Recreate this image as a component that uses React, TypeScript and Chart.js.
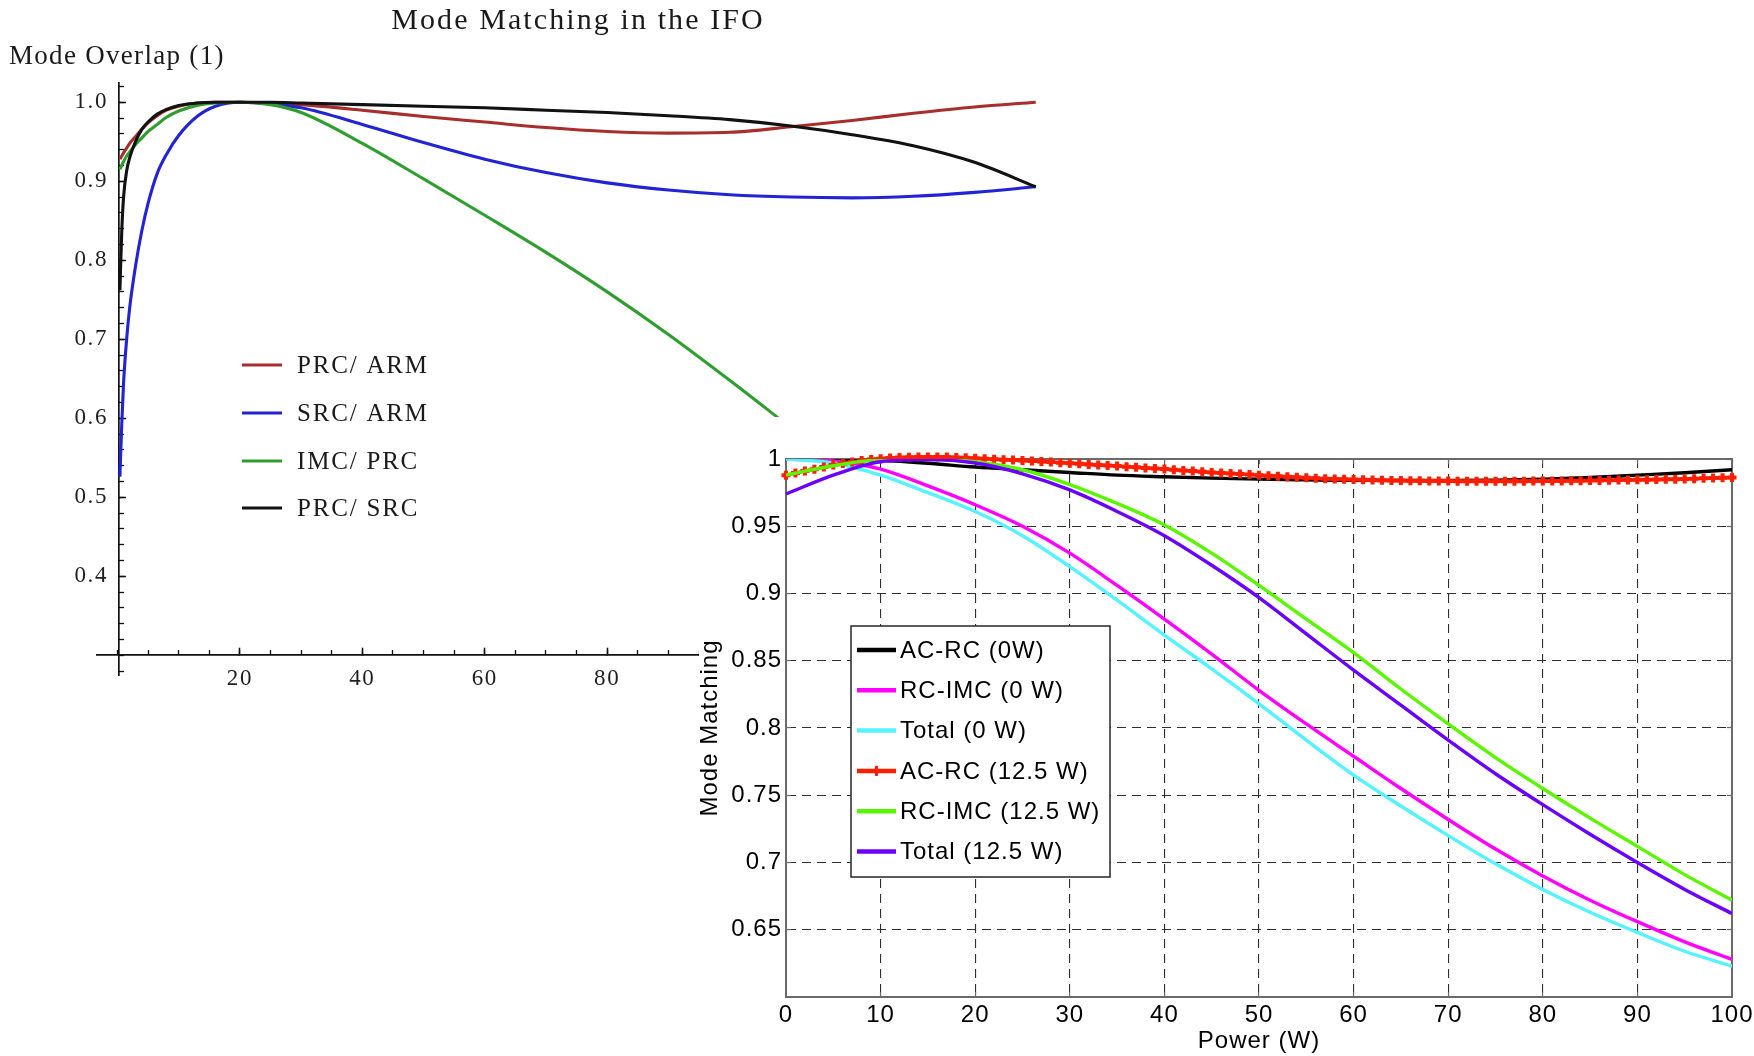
import React, { useEffect, useRef } from 'react';
import { Chart, registerables } from 'chart.js';

Chart.register(...registerables);

// ---------------- Left chart: "Mode Matching in the IFO" ----------------
const leftTitle = 'Mode Matching in the IFO';
const leftYAxisLabel = 'Mode Overlap (1)';
const leftSeriesLabels = ['PRC/ ARM', 'SRC/ ARM', 'IMC/ PRC', 'PRC/ SRC'];
const leftX = [0.4, 0.7, 1, 1.5, 2, 3, 4, 5, 6.5, 8, 10, 13, 16, 20, 25, 30, 40, 50, 60, 70, 80, 90, 100, 110, 120, 130, 140, 150];
const prcArm = [0.928, 0.932, 0.936, 0.942, 0.948, 0.957, 0.966, 0.974, 0.983, 0.99, 0.995, 0.999, 1.0, 1.0, 0.999, 0.997, 0.99, 0.982, 0.975, 0.968, 0.963, 0.961, 0.962, 0.969, 0.977, 0.986, 0.994, 1.0];
const srcArm = [0.526, 0.592, 0.645, 0.7, 0.74, 0.795, 0.838, 0.872, 0.91, 0.934, 0.958, 0.982, 0.995, 1.0, 0.998, 0.993, 0.972, 0.949, 0.928, 0.911, 0.898, 0.889, 0.883, 0.88, 0.879, 0.881, 0.886, 0.893];
const imcPrc = [0.915, 0.92, 0.925, 0.932, 0.937, 0.947, 0.955, 0.963, 0.972, 0.981, 0.989, 0.996, 0.999, 1.0, 0.997, 0.987, 0.948, 0.903, 0.857, 0.81, 0.76, 0.706, 0.648, 0.588];
const prcSrc = [0.762, 0.836, 0.88, 0.913, 0.93, 0.951, 0.966, 0.975, 0.985, 0.991, 0.996, 0.999, 1.0, 1.0, 1.0, 0.999, 0.997, 0.995, 0.993, 0.99, 0.987, 0.983, 0.978, 0.97, 0.959, 0.945, 0.924, 0.893];
const leftXTicks = [20, 40, 60, 80, 100, 120, 140];
const leftXTickLabels = ['20', '40', '60', '80', '100', '120', '140'];
const leftYTicks = [0.4, 0.5, 0.6, 0.7, 0.8, 0.9, 1.0];
const leftYTickLabels = ['0.4', '0.5', '0.6', '0.7', '0.8', '0.9', '1.0'];

// ---------------- Right chart: Mode Matching vs Power ----------------
const rightXLabel = 'Power (W)';
const rightYLabel = 'Mode Matching';
const rightSeriesLabels = ['AC-RC (0W)', 'RC-IMC (0 W)', 'Total (0 W)', 'AC-RC (12.5 W)', 'RC-IMC (12.5 W)', 'Total (12.5 W)'];
const powerCoarse = [0, 5, 10, 15, 20, 25, 30, 35, 40, 45, 50, 55, 60, 65, 70, 75, 80, 85, 90, 95, 100];
const powerFine = Array.from({ length: 101 }, (_, i) => i);
const acRc0 = [1.0, 1.0, 0.999, 0.9968, 0.994, 0.992, 0.99, 0.988, 0.9868, 0.9858, 0.985, 0.9845, 0.9841, 0.984, 0.984, 0.9842, 0.985, 0.9862, 0.988, 0.9898, 0.992];
const rcImc0 = [1.0, 0.9985, 0.9925, 0.98, 0.966, 0.95, 0.93, 0.906, 0.881, 0.855, 0.828, 0.803, 0.779, 0.755, 0.732, 0.71, 0.69, 0.672, 0.656, 0.641, 0.628];
const total0 = [1.0, 0.997, 0.988, 0.975, 0.961, 0.943, 0.92, 0.895, 0.869, 0.844, 0.818, 0.791, 0.765, 0.742, 0.72, 0.699, 0.68, 0.663, 0.648, 0.634, 0.623];
const acRc125 = [
  0.988, 0.9895, 0.991, 0.9924, 0.994, 0.9955, 0.9967, 0.9978, 0.9988, 0.9996,
  1.0002, 1.0007, 1.0011, 1.0013, 1.0015, 1.0015, 1.0015, 1.0014, 1.0012, 1.0009,
  1.0005, 1.0002, 0.9998, 0.9995, 0.9992, 0.9989, 0.9985, 0.9981, 0.9977, 0.9973,
  0.9969, 0.9965, 0.996, 0.9956, 0.9952, 0.9948, 0.9943, 0.9939, 0.9934, 0.993,
  0.9925, 0.992, 0.9915, 0.991, 0.9905, 0.99, 0.9896, 0.9892, 0.9888, 0.9884,
  0.988, 0.9876, 0.9872, 0.9868, 0.9864, 0.986, 0.9857, 0.9854, 0.9851, 0.9849,
  0.9847, 0.9845, 0.9843, 0.9842, 0.9841, 0.984, 0.9839, 0.9838, 0.9837, 0.9836,
  0.9836, 0.9835, 0.9835, 0.9835, 0.9835, 0.9835, 0.9835, 0.9835, 0.9835, 0.9836,
  0.9836, 0.9837, 0.9837, 0.9838, 0.9839, 0.984, 0.9841, 0.9842, 0.9843, 0.9844,
  0.9845, 0.9846, 0.9847, 0.9849, 0.985, 0.9852, 0.9854, 0.9856, 0.9858, 0.986,
  0.9862,
];
const rcImc125 = [0.988, 0.995, 0.9995, 1.0, 0.998, 0.992, 0.981, 0.967, 0.951, 0.93, 0.906, 0.881, 0.856, 0.829, 0.803, 0.778, 0.755, 0.733, 0.712, 0.691, 0.672];
const total125 = [0.974, 0.988, 0.998, 0.9995, 0.997, 0.989, 0.977, 0.961, 0.943, 0.921, 0.897, 0.87, 0.843, 0.817, 0.791, 0.766, 0.743, 0.721, 0.7, 0.68, 0.662];
const rightXTicks = [0, 10, 20, 30, 40, 50, 60, 70, 80, 90, 100];
const rightXTickLabels = ['0', '10', '20', '30', '40', '50', '60', '70', '80', '90', '100'];
const rightYTicks = [0.65, 0.7, 0.75, 0.8, 0.85, 0.9, 0.95, 1.0];
const rightYTickLabels = ['0.65', '0.7', '0.75', '0.8', '0.85', '0.9', '0.95', '1'];

const SERIF = '"Liberation Serif", "Times New Roman", Times, serif';
const SANS = '"Liberation Sans", Arial, Helvetica, sans-serif';

const pts = (xs: number[], ys: number[]) => ys.map((y, i) => ({ x: xs[i], y }));

const leftTextPlugin = {
  id: 'leftText',
  beforeDraw(chart: any) {
    chart.ctx.letterSpacing = '1.6px';
  },
  afterDraw(chart: any) {
    const ctx = chart.ctx;
    ctx.save();
    ctx.fillStyle = '#1a1a1a';
    ctx.letterSpacing = '2.1px';
    ctx.font = `30px ${SERIF}`;
    ctx.textAlign = 'center';
    ctx.textBaseline = 'alphabetic';
    ctx.fillText(leftTitle, 578, 29);
    ctx.letterSpacing = '1.3px';
    ctx.font = `27px ${SERIF}`;
    ctx.textAlign = 'left';
    ctx.fillText(leftYAxisLabel, 9, 64);
    // legend
    const ys = [365, 413, 461, 508];
    ctx.letterSpacing = '1.8px';
    ctx.font = `25px ${SERIF}`;
    ctx.textBaseline = 'middle';
    chart.data.datasets.forEach((ds: any, i: number) => {
      ctx.strokeStyle = ds.borderColor;
      ctx.lineWidth = 3;
      ctx.beginPath();
      ctx.moveTo(242, ys[i]);
      ctx.lineTo(282, ys[i]);
      ctx.stroke();
      ctx.fillStyle = '#1a1a1a';
      ctx.fillText(ds.label, 297, ys[i] + 1);
    });
    ctx.restore();
  },
};

const rightLegendPlugin = {
  id: 'rightLegend',
  beforeDraw(chart: any) {
    chart.ctx.letterSpacing = '1px';
  },
  afterDatasetsDraw(chart: any) {
    const ctx = chart.ctx;
    ctx.save();
    ctx.fillStyle = '#ffffff';
    ctx.fillRect(152, 209, 259, 251);
    ctx.strokeStyle = '#262626';
    ctx.lineWidth = 1.5;
    ctx.strokeRect(152, 209, 259, 251);
    ctx.letterSpacing = '1px';
    ctx.font = `24px ${SANS}`;
    ctx.textAlign = 'left';
    ctx.textBaseline = 'middle';
    chart.data.datasets.forEach((ds: any, i: number) => {
      const y = 233 + i * 40.3;
      ctx.strokeStyle = ds.borderColor;
      ctx.lineWidth = 4.5;
      ctx.beginPath();
      ctx.moveTo(158, y);
      ctx.lineTo(197, y);
      ctx.stroke();
      if (ds.pointRadius > 0) {
        ctx.lineWidth = 3;
        ctx.beginPath();
        ctx.moveTo(177.5, y - 5);
        ctx.lineTo(177.5, y + 5);
        ctx.stroke();
      }
      ctx.fillStyle = '#000';
      ctx.fillText(ds.label, 201, y + 1);
    });
    ctx.restore();
  },
};

export default function App() {
  const leftRef = useRef<HTMLCanvasElement>(null);
  const rightRef = useRef<HTMLCanvasElement>(null);

  useEffect(() => {
    const leftTickFont = { family: SERIF, size: 23 };
    const leftColors = ['#a82e2e', '#2323d6', '#2f9e2f', '#121212'];
    const leftData = [prcArm, srcArm, imcPrc, prcSrc];
    const X_MIN = -3.34;
    const X_MAX = 152;
    const Y_MIN = 0.275;
    const Y_MAX = 1.0244;
    const left = new Chart(leftRef.current as HTMLCanvasElement, {
      type: 'line',
      data: {
        datasets: leftData.map((arr, i) => ({
          label: leftSeriesLabels[i],
          data: pts(leftX, arr),
          borderColor: leftColors[i],
          backgroundColor: leftColors[i],
          borderWidth: 3.1,
          pointRadius: 0,
          cubicInterpolationMode: 'monotone',
          order: 4 - i,
        })),
      },
      options: {
        responsive: false,
        animation: false,
        layout: { padding: { left: 0, top: 83, right: 706, bottom: 381 } },
        plugins: { legend: { display: false }, tooltip: { enabled: false }, title: { display: false } },
        scales: {
          x: {
            type: 'linear',
            position: { y: 0.3 },
            min: X_MIN,
            max: X_MAX,
            afterBuildTicks: (s: any) => { s.ticks = leftXTicks.map((v) => ({ value: v })); },
            afterFit: (s: any) => { s.paddingLeft = 0; s.paddingRight = 0; },
            ticks: { autoSkip: false, maxRotation: 0, padding: 18, color: '#1e1e1e', font: leftTickFont, callback: (_v: any, i: number) => leftXTickLabels[i] },
            grid: { drawOnChartArea: false, tickLength: -8, tickColor: '#111', tickWidth: 1.5 },
            border: { display: true, color: '#111', width: 1.7 },
          },
          xMinor: {
            type: 'linear',
            axis: 'x',
            position: { y: 0.3 },
            min: X_MIN,
            max: X_MAX,
            afterFit: (s: any) => { s.paddingLeft = 0; s.paddingRight = 0; },
            ticks: { display: false, stepSize: 5, includeBounds: false, autoSkip: false },
            grid: { drawOnChartArea: false, tickLength: -5, tickColor: '#111', tickWidth: 1.3 },
            border: { display: false },
          },
          y: {
            type: 'linear',
            axis: 'y',
            position: { x: 0.3 },
            min: Y_MIN,
            max: Y_MAX,
            afterBuildTicks: (s: any) => { s.ticks = leftYTicks.map((v) => ({ value: v })); },
            ticks: { display: false, autoSkip: false },
            grid: { drawOnChartArea: false, tickLength: -8, tickColor: '#111', tickWidth: 1.5 },
            border: { display: true, color: '#111', width: 1.7 },
          },
          yMinor: {
            type: 'linear',
            axis: 'y',
            position: { x: 0.3 },
            min: Y_MIN,
            max: Y_MAX,
            ticks: { display: false, stepSize: 0.02, includeBounds: false, autoSkip: false },
            grid: { drawOnChartArea: false, tickLength: -5, tickColor: '#111', tickWidth: 1.3 },
            border: { display: false },
          },
          yLabels: {
            type: 'linear',
            axis: 'y',
            position: 'left',
            min: Y_MIN,
            max: Y_MAX,
            afterBuildTicks: (s: any) => { s.ticks = leftYTicks.map((v) => ({ value: v })); },
            afterFit: (s: any) => { s.width = 97; },
            ticks: {
              autoSkip: false,
              mirror: true,
              crossAlign: 'far',
              padding: -17.75,
              color: '#1e1e1e',
              font: leftTickFont,
              callback: (_v: any, i: number) => leftYTickLabels[i],
            },
            grid: { display: false, drawTicks: false, drawOnChartArea: false },
            border: { display: false },
          },
        },
      } as any,
      plugins: [leftTextPlugin],
    });

    const rightFont = { family: SANS, size: 24 };
    const gridDark = '#2e2e2e';
    const axisGray = '#6a6a6a';
    const clear = 'rgba(0,0,0,0)';
    const rightColors = ['#000000', '#ff00ff', '#55f2ff', '#ff1e00', '#5cf500', '#6a00ff'];
    const rightSets = [
      pts(powerCoarse, acRc0),
      pts(powerCoarse, rcImc0),
      pts(powerCoarse, total0),
      pts(powerFine, acRc125),
      pts(powerCoarse, rcImc125),
      pts(powerCoarse, total125),
    ];
    const right = new Chart(rightRef.current as HTMLCanvasElement, {
      type: 'line',
      data: {
        datasets: rightSets.map((d, i) => ({
          label: rightSeriesLabels[i],
          data: d,
          borderColor: rightColors[i],
          backgroundColor: rightColors[i],
          borderWidth: 3.4,
          pointRadius: i === 3 ? 4.5 : 0,
          pointStyle: 'cross',
          pointBorderWidth: 4,
          pointBorderColor: rightColors[i],
          cubicInterpolationMode: 'monotone',
          clip: i === 3 ? false : undefined,
          order: 6 - i,
        })),
      },
      options: {
        responsive: false,
        animation: false,
        layout: { padding: { left: 0, top: 42, right: 22, bottom: 0 } },
        plugins: { legend: { display: false }, tooltip: { enabled: false }, title: { display: false } },
        scales: {
          x: {
            type: 'linear',
            position: 'bottom',
            min: 0,
            max: 100,
            afterBuildTicks: (s: any) => { s.ticks = rightXTicks.map((v) => ({ value: v })); },
            afterFit: (s: any) => { s.height = 59; s.paddingLeft = 0; s.paddingRight = 0; },
            ticks: { autoSkip: false, maxRotation: 0, padding: 9, color: '#000', font: rightFont, callback: (_v: any, i: number) => rightXTickLabels[i] },
            grid: {
              color: (c: any) => (c.tick && (c.tick.value <= 0 || c.tick.value >= 100) ? clear : gridDark),
              lineWidth: 1.1,
              tickLength: -5,
              tickColor: axisGray,
              tickWidth: 1.2,
            },
            border: { display: true, color: axisGray, width: 2, dash: [9, 6] },
            title: { display: true, text: rightXLabel, color: '#000', font: { family: SANS, size: 24, lineHeight: 1.2 }, padding: { top: 0, bottom: 0 } },
          },
          x2: {
            type: 'linear',
            position: 'top',
            min: 0,
            max: 100,
            afterBuildTicks: (s: any) => { s.ticks = rightXTicks.map((v) => ({ value: v })); },
            afterFit: (s: any) => { s.height = 0; s.paddingLeft = 0; s.paddingRight = 0; },
            ticks: { display: false },
            grid: { drawOnChartArea: false, tickLength: -5, tickColor: axisGray, tickWidth: 1.2 },
            border: { display: true, color: axisGray, width: 2 },
          },
          y: {
            type: 'linear',
            position: 'left',
            min: 0.6,
            max: 1.0,
            afterBuildTicks: (s: any) => { s.ticks = rightYTicks.map((v) => ({ value: v })); },
            afterFit: (s: any) => { s.width = 87; },
            ticks: { autoSkip: false, padding: 9, color: '#000', font: rightFont, callback: (_v: any, i: number) => rightYTickLabels[i] },
            grid: {
              color: (c: any) => (c.tick && c.tick.value >= 0.999 ? clear : gridDark),
              lineWidth: 1.1,
              tickLength: -5,
              tickColor: axisGray,
              tickWidth: 1.2,
            },
            border: { display: true, color: axisGray, width: 2, dash: [9, 6] },
            title: { display: true, text: rightYLabel, color: '#000', font: { family: SANS, size: 24, lineHeight: 0.92 }, padding: { top: 0, bottom: 0 } },
          },
          y2: {
            type: 'linear',
            position: 'right',
            min: 0.6,
            max: 1.0,
            afterBuildTicks: (s: any) => { s.ticks = rightYTicks.map((v) => ({ value: v })); },
            afterFit: (s: any) => { s.width = 0; },
            ticks: { display: false },
            grid: { drawOnChartArea: false, tickLength: -5, tickColor: axisGray, tickWidth: 1.2 },
            border: { display: true, color: axisGray, width: 2 },
          },
        },
      } as any,
      plugins: [rightLegendPlugin],
    });

    return () => {
      left.destroy();
      right.destroy();
    };
  }, []);

  return (
    <div style={{ position: 'absolute', left: 0, top: 0, width: 1754, height: 1056, background: '#ffffff', overflow: 'hidden' }}>
      <div style={{ position: 'absolute', left: 0, top: 0, width: 1754, height: 1056 }}>
        <canvas ref={leftRef} width={1754} height={1056} style={{ display: 'block' }} />
      </div>
      <div style={{ position: 'absolute', left: 699, top: 417, width: 1055, height: 639, background: '#ffffff' }}>
        <canvas ref={rightRef} width={1055} height={639} style={{ display: 'block' }} />
      </div>
    </div>
  );
}
